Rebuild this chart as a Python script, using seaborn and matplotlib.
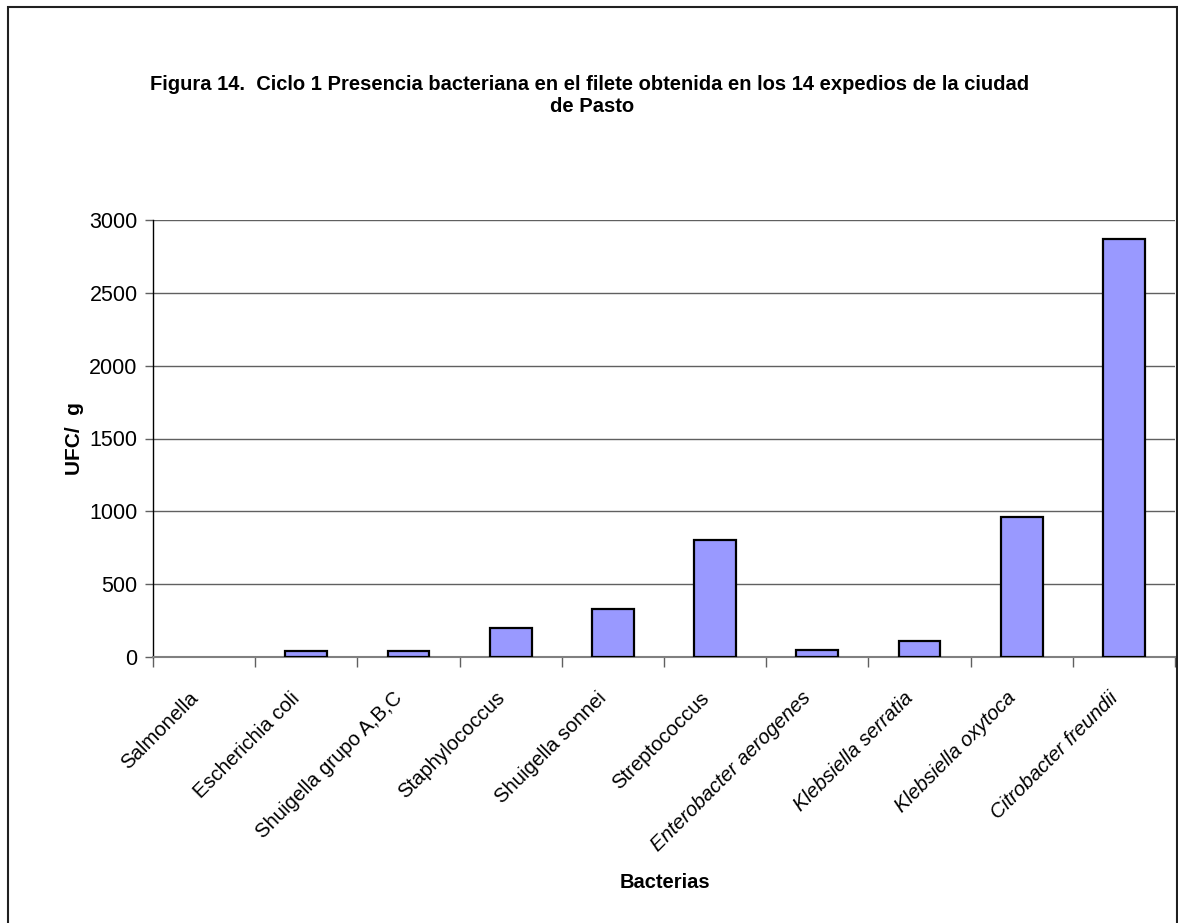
import matplotlib
matplotlib.use("Agg")
import matplotlib.pyplot as plt
import matplotlib.transforms as mtransforms
import seaborn as sns
import numpy as np
import pandas as pd
from matplotlib.patches import Rectangle
from matplotlib.ticker import FixedLocator

# Bacterial counts (UFC/g) per species, cycle 1
bacterias = [
    "Salmonella",
    "Escherichia coli",
    "Shuigella grupo A,B,C",
    "Staphylococcus",
    "Shuigella sonnei",
    "Streptococcus",
    "Enterobacter aerogenes",
    "Klebsiella serratia",
    "Klebsiella oxytoca",
    "Citrobacter freundii",
]
ufc_g = [0, 40, 40, 200, 330, 800, 50, 110, 960, 2870]
italic_labels = [False, False, False, False, False, False, True, True, True, True]
y_ticks = [0, 500, 1000, 1500, 2000, 2500, 3000]

sns.set_style("white")
plt.rcParams["font.family"] = ["Liberation Sans", "DejaVu Sans"]
plt.rcParams["text.color"] = "black"
plt.rcParams["axes.labelcolor"] = "black"
plt.rcParams["xtick.color"] = "black"
plt.rcParams["ytick.color"] = "black"

W, H = 1178, 923
fig = plt.figure(figsize=(W / 100, H / 100), dpi=100)
ax = fig.add_axes([153 / W, 1 - 657 / H, (1175 - 153) / W, (657 - 220) / H])

df = pd.DataFrame({"Bacterias": bacterias, "UFC": ufc_g})
sns.barplot(data=df, x="Bacterias", y="UFC", color="#9999FF", saturation=1,
            edgecolor="black", linewidth=1.6, width=0.41, ax=ax, zorder=3)
# zero-valued bars leave no visible outline
for p in ax.patches:
    if p.get_height() == 0:
        p.set_visible(False)

ax.set_xlim(-0.5, len(bacterias) - 0.5)
ax.set_ylim(0, 3000)
ax.set_yticks(y_ticks)
ax.set_yticklabels([str(v) for v in y_ticks], fontsize=15.5)
ax.yaxis.grid(True, color="#606060", linewidth=1.0, zorder=0)
ax.set_axisbelow(True)

for s in ("top", "right"):
    ax.spines[s].set_visible(False)
ax.spines["left"].set_color("black")
ax.spines["left"].set_linewidth(1.0)
ax.spines["bottom"].set_color("#808080")
ax.spines["bottom"].set_linewidth(1.5)

ax.tick_params(axis="y", which="major", left=True, length=6, width=1.0,
               color="#606060", pad=5)
ax.tick_params(axis="x", which="major", bottom=False, length=0, pad=14)
ax.xaxis.set_minor_locator(FixedLocator(np.arange(-0.5, len(bacterias), 1.0)))
ax.tick_params(axis="x", which="minor", bottom=True, length=7, width=1.0,
               color="#606060")

ax.set_xticks(range(len(bacterias)))
ax.set_xticklabels(bacterias, rotation=45, ha="right", va="top",
                   rotation_mode="anchor", fontsize=14.6)
shift = mtransforms.ScaledTranslation(-16 / 100, -12 / 100, fig.dpi_scale_trans)
for lbl, it in zip(ax.get_xticklabels(), italic_labels):
    lbl.set_transform(lbl.get_transform() + shift)
    if it:
        lbl.set_style("italic")

ax.set_xlabel("Bacterias", fontsize=14.5, fontweight="bold")
ax.xaxis.set_label_coords((664.5 - 153) / 1022, (657 - 882) / 437)
ax.xaxis.label.set_va("center")
ax.set_ylabel("UFC/  g", fontsize=15, fontweight="bold", labelpad=4)

fig.text(590 / W, 1 - 84 / H,
         "Figura 14.  Ciclo 1 Presencia bacteriana en el filete obtenida en los 14 expedios de la ciudad",
         ha="center", va="center", fontsize=14.5, fontweight="bold")
fig.text(592 / W, 1 - 107 / H, "de Pasto",
         ha="center", va="center", fontsize=14.5, fontweight="bold")

# outer chart frame
fig.patches.append(Rectangle((8 / W, -0.05), (1177 - 8) / W, 1.05 - 7 / H,
                             transform=fig.transFigure, fill=False,
                             edgecolor="#202020", linewidth=1.5))

fig.savefig("out.png", dpi=100)
